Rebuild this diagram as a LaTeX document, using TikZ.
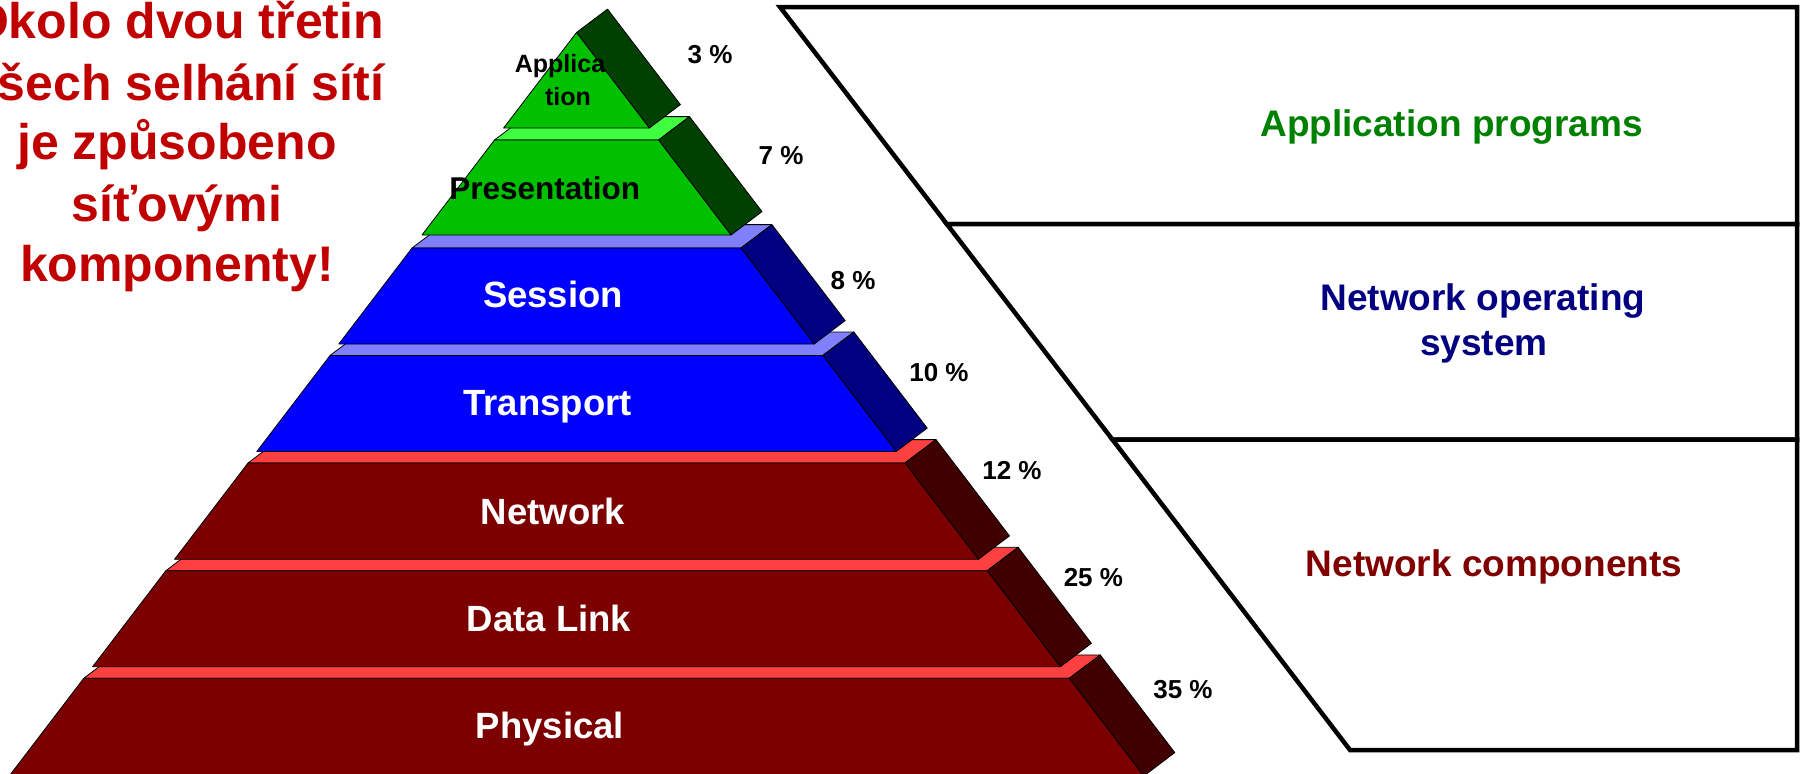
\documentclass[tikz,border=0pt]{standalone}
\usepackage{fontspec}
\setmainfont{Liberation Sans}
\definecolor{grF}{RGB}{0,192,0}
\definecolor{grT}{RGB}{64,255,64}
\definecolor{grS}{RGB}{0,64,0}
\definecolor{blF}{RGB}{0,0,255}
\definecolor{blT}{RGB}{128,128,255}
\definecolor{blS}{RGB}{0,0,128}
\definecolor{rdF}{RGB}{125,0,0}
\definecolor{rdT}{RGB}{255,64,64}
\definecolor{rdS}{RGB}{64,0,0}
\definecolor{txtred}{RGB}{192,0,0}
\definecolor{txtgreen}{RGB}{0,128,0}
\definecolor{txtnavy}{RGB}{0,0,128}
\definecolor{txtdred}{RGB}{128,0,0}
\newcommand\pyrblock[5]{%
  \pgfmathsetmacro\pyTL{576.5-0.763*(#1-32.5)}%
  \pgfmathsetmacro\pyTR{576.5+0.763*(#1-32.5)}%
  \pgfmathsetmacro\pyBL{576.5-0.763*(#2-32.5)}%
  \pgfmathsetmacro\pyBR{576.5+0.763*(#2-32.5)}%
  \filldraw[face,fill=#4] (\pyTL,#1) -- (\pyTR,#1) -- (\pyTR+31,#1-23.4) -- (\pyTL+31,#1-23.4) -- cycle;
  \filldraw[face,fill=#5] (\pyTR,#1) -- (\pyTR+31,#1-23.4) -- (\pyBR+31,#2-23.4) -- (\pyBR,#2) -- cycle;
  \filldraw[face,fill=#3] (\pyTL,#1) -- (\pyTR,#1) -- (\pyBR,#2) -- (\pyBL,#2) -- cycle;
}
\begin{document}
\begin{tikzpicture}[x=1pt,y=-1pt,
  face/.style={draw=black, line width=0.8pt, line join=round},
  panel/.style={draw=black, line width=4.5pt, fill=white, line join=miter},
  lyr/.style={inner sep=0pt, anchor=base, text=white, font=\fontsize{36.5}{44}\selectfont\bfseries},
  pct/.style={inner sep=0pt, anchor=base, text=black, font=\fontsize{26}{31}\selectfont\bfseries},
  note/.style={inner sep=0pt, anchor=base, text=txtred, font=\fontsize{50}{61}\selectfont\bfseries},
  ptxt/.style={inner sep=0pt, anchor=base, font=\fontsize{37}{44}\selectfont\bfseries}]
\useasboundingbox (0,0) rectangle (1800,774);

% ---- pyramid, bottom first ----
\pyrblock{678.3}{776}{rdF}{rdT}{rdS}
\pyrblock{570.7}{666.7}{rdF}{rdT}{rdS}
\pyrblock{463}{559.3}{rdF}{rdT}{rdS}
\pyrblock{355.4}{451.5}{blF}{blT}{blS}
\pyrblock{248}{344}{blF}{blT}{blS}
\pyrblock{140}{235}{grF}{grT}{grS}
% application (triangle)
\filldraw[face,fill=grS] (576.5,32.5) -- (607.5,9.1) -- (680.4,104.6) -- (649.4,128) -- cycle;
\filldraw[face,fill=grF] (576.5,32.5) -- (649.4,128) -- (503.6,128) -- cycle;

% ---- layer labels ----
\node[pct,font=\fontsize{25}{30}\selectfont\bfseries] (app1) at (560,72.7) {Applica};
\node[pct,font=\fontsize{25}{30}\selectfont\bfseries] (app2) at (568,105) {tion};
\node[pct,font=\fontsize{31.5}{38}\selectfont\bfseries] (pres) at (544.7,199) {Presentation};
\node[lyr] (sess) at (553,307.5) {Session};
\node[lyr] (trans) at (547.6,415) {Transport};
\node[lyr] (netw) at (552.8,524.3) {Network};
\node[lyr] (dlink) at (549,631) {Data Link};
\node[lyr] (phys) at (550,738.3) {Physical};

% ---- percentages ----
\node[pct] (p3) at (710,63.3) {3 \%};
\node[pct] (p7) at (781,164) {7 \%};
\node[pct] (p8) at (853,289.3) {8 \%};
\node[pct] (p10) at (939,381.7) {10 \%};
\node[pct] (p12) at (1012,479.3) {12 \%};
\node[pct] (p25) at (1093.4,586.7) {25 \%};
\node[pct] (p35) at (1183,698.3) {35 \%};

% ---- red note ----
\node[note] (n1) at (177,38.3) {Okolo dvou třetin};
\node[note] (n2) at (177,100) {všech selhání sítí};
\node[note] (n3) at (177,159.3) {je způsobeno};
\node[note] (n4) at (177,221.7) {síťovými};
\node[note] (n5) at (177,281.7) {komponenty!};

% ---- right panel ----
\filldraw[panel] (780,7) -- (1797,7) -- (1797,224) -- (946.8,224) -- cycle;
\filldraw[panel] (946.8,224) -- (1797,224) -- (1797,439.5) -- (1112.4,439.5) -- cycle;
\filldraw[panel] (1112.4,439.5) -- (1797,439.5) -- (1797,750) -- (1350,750) -- cycle;
\node[ptxt,text=txtgreen] (appprog) at (1451.5,136.7) {Application programs};
\node[ptxt,text=txtnavy] (nos1) at (1483,310) {Network operating};
\node[ptxt,text=txtnavy] (nos2) at (1484,355) {system};
\node[ptxt,text=txtdred] (netcomp) at (1494,576.7) {Network components};
\end{tikzpicture}
\end{document}
